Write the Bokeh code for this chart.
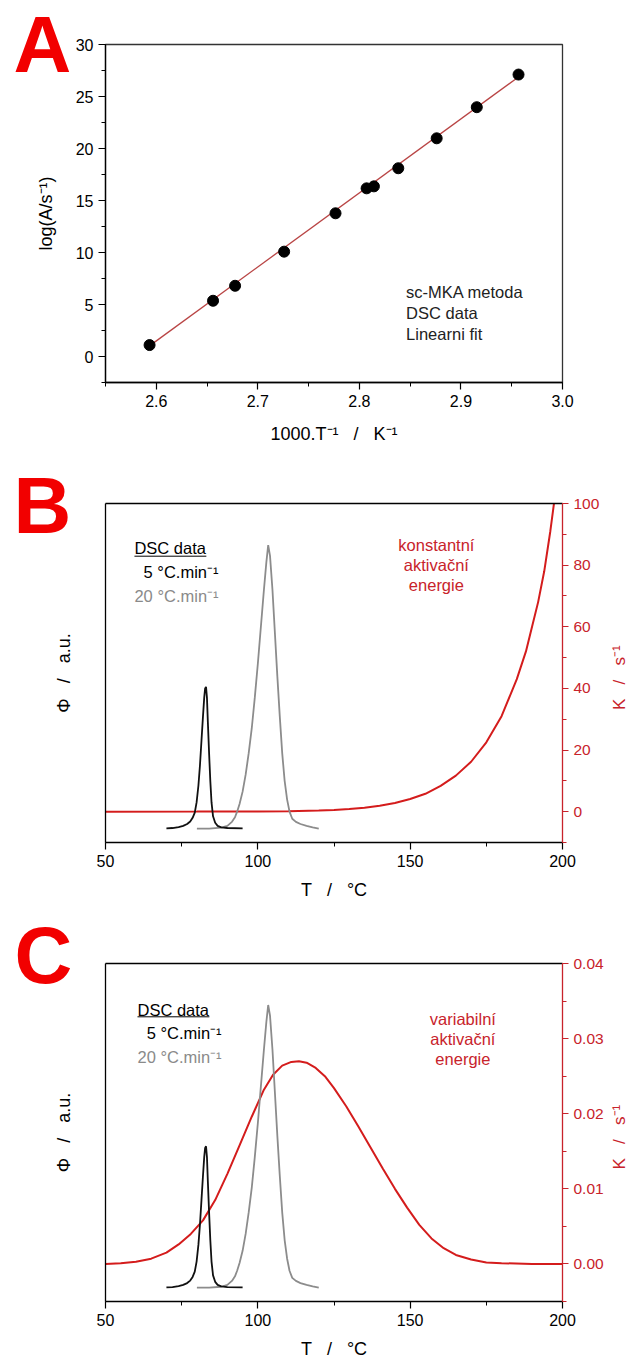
import math
from bokeh.plotting import figure
from bokeh.layouts import column
from bokeh.models import (Range1d, LinearAxis, SingleIntervalTicker, FixedTicker,
                          NumeralTickFormatter)
from bokeh.core.properties import value
from bokeh.embed import file_html
from bokeh.resources import INLINE

FONT = "Liberation Sans"
RED_AX = "#c8232b"
RED_LINE = "#d41c1c"
LETTER_RED = "#f20000"
SP = "\u00a0\u00a0\u00a0"

# ---------------- Panel A data ----------------
inv_T = [2.5934, 2.6559, 2.6776, 2.7259, 2.7765, 2.8071, 2.8143, 2.8383, 2.8761, 2.9156, 2.9567]
log_A = [1.10, 5.36, 6.80, 10.08, 13.77, 16.17, 16.36, 18.10, 20.98, 23.97, 27.11]
fit_x = [2.593, 2.957]
fit_y = [1.0, 26.9]
a_text = ["sc-MKA metoda", "DSC data", "Linearni fit"]
a_text_x = [2.846, 2.846, 2.846]
a_text_y = [6.16, 4.18, 2.21]

# ---------------- DSC curves (Φ, a.u.) ----------------
T5 = [70, 72, 74, 75.5, 76.8, 77.8, 78.6, 79.3, 79.9, 80.5, 81.0, 81.5, 82.0, 82.4, 82.7,
      83.0, 83.3, 83.6, 84.0, 84.4, 84.8, 85.3, 86.0, 86.8, 88, 90, 95]
phi5 = [-5.4, -5.3, -5.0, -4.6, -4.0, -3.2, -2.0, -0.3, 3, 8.5, 15, 23, 31, 37, 40,
        40.5, 37, 29, 19, 10, 3, -1.5, -3.6, -4.6, -5.1, -5.3, -5.4]
T20 = [80, 84, 88, 90, 91.5, 92.5, 93.2, 94, 95, 96, 97, 98, 99, 100, 101, 102, 102.8, 103.4,
       104, 104.8, 105.6, 106.4, 107.2, 108, 108.8, 109.6, 110.4, 111.3, 112.5, 114, 116, 118, 120]
phi20 = [-5.5, -5.5, -5.2, -4.6, -3.3, -1.8, 0, 2.5, 6.5, 12, 19, 27, 37, 48, 60, 72, 81, 86.5,
         83, 72, 58, 44, 31, 19, 10, 4, 0, -2.3, -3.3, -4.0, -4.6, -5.1, -5.5]

# ---------------- Rate constant K (s^-1) ----------------
TB = [50, 80, 100, 110, 120, 125, 130, 135, 140, 145, 150, 155, 160, 165, 170, 175, 180, 185,
      188, 190, 192, 194, 196, 197.2]
KB = [0.0, 0.02, 0.06, 0.15, 0.36, 0.55, 0.84, 1.3, 1.9, 2.8, 4.1, 5.8, 8.4, 11.7, 16.2, 22.5,
      31, 43, 52, 60, 68, 78, 91, 100]
TC = [50, 55, 60, 65, 70, 74, 78, 82, 86, 90, 94, 98, 102, 105, 108, 111, 113.5, 116, 119,
      122, 125, 129, 133, 137, 141, 145, 149, 153, 157, 161, 165, 170, 175, 180, 190, 200]
KC = [0.0, 0.0001, 0.0003, 0.0007, 0.0015, 0.0026, 0.0040, 0.0058, 0.0085, 0.0120, 0.0158,
      0.0196, 0.0232, 0.0252, 0.0264, 0.0269, 0.0270, 0.0268, 0.0261, 0.0250, 0.0234, 0.0210,
      0.0183, 0.0155, 0.0127, 0.0100, 0.0075, 0.0052, 0.0034, 0.0021, 0.0012, 0.0006, 0.0002,
      0.0001, 0.0, 0.0]

legend_lines = ["DSC data", "5 °C.min⁻¹", "20 °C.min⁻¹"]
legend_colors = ["black", "black", "#8a8a8a"]
B_leg_x = [59.5, 62.5, 59.5]
B_leg_y = [85.4, 77.7, 70.1]
C_leg_x = [60.5, 63.5, 60.5]
C_leg_y = [85.0, 77.5, 69.7]
B_note = ["konstantní", "aktivační", "energie"]
B_note_x = [158.6, 158.6, 158.6]
B_note_y = [86.4, 79.9, 73.7]
C_note = ["variabilní", "aktivační", "energie"]
C_note_x = [167.3, 167.3, 167.3]
C_note_y = [81.8, 75.3, 68.8]


def style_axis(ax, color="black"):
    ax.axis_line_color = color
    ax.major_tick_line_color = color
    ax.minor_tick_line_color = color
    ax.major_label_text_color = color
    ax.axis_label_text_color = color
    ax.major_label_text_font = FONT
    ax.axis_label_text_font = FONT
    ax.major_label_text_font_size = "16px"
    ax.axis_label_text_font_size = "18px"
    ax.axis_label_text_font_style = "normal"
    ax.major_tick_in = 0
    ax.major_tick_out = 7
    ax.minor_tick_in = 0
    ax.minor_tick_out = 4
    ax.axis_line_width = 1.3
    ax.major_tick_line_width = 1.2
    ax.minor_tick_line_width = 1.0


def panel_letter(p, x, y, letter):
    p.text(x=[x], y=[y], text=[letter], text_font=value(FONT), text_font_size="80px",
           text_font_style="bold", text_color=LETTER_RED, text_baseline="middle",
           text_align="left", level="overlay")


# ---------------- Figure A ----------------
pA = figure(frame_width=457, frame_height=338, x_range=Range1d(2.55, 3.0),
            y_range=Range1d(-2.5, 30),
            output_backend="svg", toolbar_location=None, title=None,
            min_border_left=105, min_border_right=69, min_border_top=44, min_border_bottom=78)
pA.grid.visible = False
pA.outline_line_color = "#333333"
pA.outline_line_width = 1.3
pA.xaxis.ticker = SingleIntervalTicker(interval=0.1, num_minor_ticks=2)
pA.xaxis.formatter = NumeralTickFormatter(format="0.0")
pA.yaxis.ticker = SingleIntervalTicker(interval=5, num_minor_ticks=2)
pA.xaxis.axis_label = "1000.T⁻¹" + SP + "/" + SP + "K⁻¹"
pA.yaxis.axis_label = "log(A/s⁻¹)"
for ax in pA.xaxis + pA.yaxis:
    style_axis(ax)
pA.xaxis.major_label_standoff = 5
pA.xaxis.axis_label_standoff = 14
pA.yaxis.axis_label_standoff = 17
pA.line(fit_x, fit_y, line_color="#b94545", line_width=1.3)
pA.scatter(inv_T, log_A, size=11, fill_color="black", line_color="black")
pA.text(x=a_text_x, y=a_text_y, text=a_text, text_font=value(FONT), text_font_size="16.5px",
        text_color="#222222", text_baseline="middle", text_align="left")
panel_letter(pA, 2.4593, 30.0, "A")


def dsc_figure(fh, top, bottom, k_range, k_ticker, k_format, TK, K, leg_x, leg_y,
               note, note_x, note_y, underline_y, letter, letter_x, letter_y, ktitle_x):
    p = figure(frame_width=457, frame_height=fh, x_range=Range1d(50, 200),
               y_range=Range1d(-10, 100),
               output_backend="svg", toolbar_location=None, title=None,
               min_border_left=105, min_border_right=69, min_border_top=top,
               min_border_bottom=bottom)
    p.extra_y_ranges = {"K": k_range}
    p.grid.visible = False
    p.outline_line_color = None
    p.xaxis.ticker = SingleIntervalTicker(interval=50, num_minor_ticks=2)
    p.xaxis.axis_label = "T" + SP + "/" + SP + "°C"
    p.yaxis.ticker = FixedTicker(ticks=[])
    p.yaxis.axis_label = "Φ" + SP + "/" + SP + "a.u."
    for ax in p.xaxis + p.yaxis:
        style_axis(ax)
    p.xaxis.major_label_standoff = 5
    p.xaxis.axis_label_standoff = 10
    p.yaxis.axis_label_standoff = 32
    top_ax = LinearAxis(ticker=FixedTicker(ticks=[]))
    style_axis(top_ax)
    p.add_layout(top_ax, "above")
    rax = LinearAxis(y_range_name="K", ticker=k_ticker)
    if k_format:
        rax.formatter = NumeralTickFormatter(format=k_format)
    style_axis(rax, RED_AX)
    rax.major_tick_out = 6
    rax.major_label_text_font_size = "15.5px"
    rax.major_label_standoff = 5
    p.add_layout(rax, "right")

    p.line(TK, K, y_range_name="K", line_color=RED_LINE, line_width=2)
    p.line(T20, phi20, line_color="#8c8c8c", line_width=1.8)
    p.line(T5, phi5, line_color="#111111", line_width=1.8)

    p.text(x=leg_x, y=leg_y, text=legend_lines, text_color=legend_colors,
           text_font=value(FONT), text_font_size="16.5px", text_baseline="middle",
           text_align="left")
    p.segment(x0=[leg_x[0]], y0=[underline_y], x1=[leg_x[0] + 23.6], y1=[underline_y],
              line_color="black", line_width=1)
    p.text(x=note_x, y=note_y, text=note, text_color=RED_AX, text_font=value(FONT),
           text_font_size="16.5px", text_baseline="middle", text_align="center")
    # right-axis title (K / s^-1), reading bottom to top
    p.text(x=[ktitle_x], y=[43.5], text=["K" + SP + "/" + SP + "s⁻¹"], angle=math.pi / 2,
           text_color=RED_AX, text_font=value(FONT), text_font_size="17px",
           text_baseline="middle", text_align="center", level="overlay")
    panel_letter(p, letter_x, letter_y, letter)
    return p


pB = dsc_figure(339, 43, 58, Range1d(-10, 100),
                SingleIntervalTicker(interval=20, num_minor_ticks=2),
                None, TB, KB, B_leg_x, B_leg_y, B_note, B_note_x, B_note_y, 82.9,
                "B", 19.8, 99.4, 218.7)
pC = dsc_figure(338, 61, 59, Range1d(-0.005, 0.04),
                SingleIntervalTicker(interval=0.01, num_minor_ticks=2), "0.00",
                TC, KC, C_leg_x, C_leg_y, C_note, C_note_x, C_note_y, 82.65,
                "C", 20.1, 102.6, 218.7)

layout = column(pA, pB, pC, spacing=0)
open("out.html", "w").write(file_html(layout, INLINE))
